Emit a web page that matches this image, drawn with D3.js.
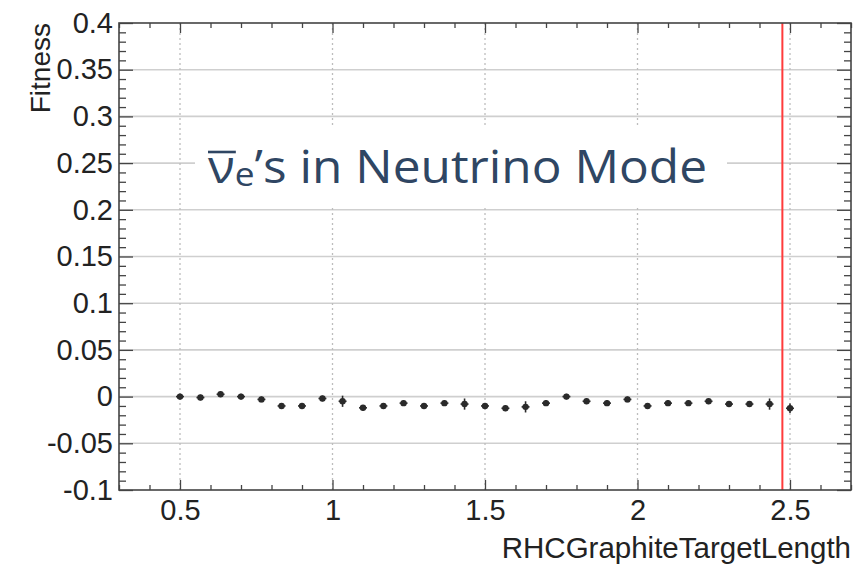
<!DOCTYPE html>
<html>
<head>
<meta charset="utf-8">
<script src="https://cdn.jsdelivr.net/npm/d3@7"></script>
<style>
  html, body { margin: 0; padding: 0; background: #fff; }
  svg { display: block; }
  .tick text { font-family: "Liberation Sans", Arial, Helvetica, sans-serif; }
</style>
</head>
<body>
<svg id="chart" width="865" height="566"></svg>
<script>
// Scan values: fitness versus graphite target length
const targetLength = [0.5, 0.567, 0.633, 0.7, 0.767, 0.833, 0.9, 0.967, 1.033, 1.1,
  1.167, 1.233, 1.3, 1.367, 1.433, 1.5, 1.567, 1.633, 1.7, 1.767,
  1.833, 1.9, 1.967, 2.033, 2.1, 2.167, 2.233, 2.3, 2.367, 2.433, 2.5];
const fitness = [0.000, -0.001, 0.0025, 0.000, -0.003, -0.010, -0.010, -0.002, -0.005, -0.012,
  -0.010, -0.007, -0.010, -0.007, -0.008, -0.010, -0.0125, -0.011, -0.007, 0.000,
  -0.005, -0.007, -0.003, -0.010, -0.007, -0.007, -0.005, -0.008, -0.008, -0.008, -0.0125];
const fitnessErr = [0.003, 0.003, 0.003, 0.003, 0.003, 0.003, 0.003, 0.003, 0.006, 0.003,
  0.003, 0.003, 0.003, 0.003, 0.006, 0.003, 0.003, 0.006, 0.003, 0.003,
  0.003, 0.003, 0.003, 0.003, 0.003, 0.003, 0.003, 0.003, 0.003, 0.006, 0.005];
const lengthErr = 0.013;
const nominalLength = 2.475;

const xTickValues = [0.5, 1, 1.5, 2, 2.5];
const xTickLabels = ["0.5", "1", "1.5", "2", "2.5"];
const yTickValues = [-0.1, -0.05, 0, 0.05, 0.1, 0.15, 0.2, 0.25, 0.3, 0.35, 0.4];
const yTickLabels = ["-0.1", "-0.05", "0", "0.05", "0.1", "0.15", "0.2", "0.25", "0.3", "0.35", "0.4"];
const xDomain = [0.3, 2.7];
const yDomain = [-0.1, 0.4];

const xTitle = "RHCGraphiteTargetLength";
const yTitle = "Fitness";

const svg = d3.select("#chart");
const frame = { left: 119, right: 851, top: 23, bottom: 490 };

const x = d3.scaleLinear().domain(xDomain).range([frame.left, frame.right]);
const y = d3.scaleLinear().domain(yDomain).range([frame.bottom, frame.top]);

const fontFam = '"Liberation Sans", Arial, Helvetica, sans-serif';
const ink = "#222";

// Horizontal grid (solid) and vertical grid (dotted)
svg.append("g").selectAll("line")
  .data(yTickValues.filter(v => v > yDomain[0] && v < yDomain[1]))
  .join("line")
  .attr("x1", frame.left).attr("x2", frame.right)
  .attr("y1", d => y(d)).attr("y2", d => y(d))
  .attr("stroke", "#cfcfcf").attr("stroke-width", 1.6);

svg.append("g").selectAll("line")
  .data(xTickValues)
  .join("line")
  .attr("x1", d => x(d)).attr("x2", d => x(d))
  .attr("y1", frame.top).attr("y2", frame.bottom)
  .attr("stroke", "#bdbdbd").attr("stroke-width", 1.3)
  .attr("stroke-dasharray", "2,3");

// Title panel
svg.append("rect")
  .attr("x", 195).attr("y", 127).attr("width", 532).attr("height", 79)
  .attr("fill", "#fff");

const title = svg.append("text")
  .attr("x", 208).attr("y", 183)
  .attr("font-family", '"Open Sans", "Noto Sans", sans-serif')
  .attr("font-size", 45)
  .attr("fill", "#2f4663")
  .attr("textLength", 499)
  .attr("lengthAdjust", "spacingAndGlyphs");
title.append("tspan").text("ν");
title.append("tspan").attr("font-size", 32).attr("dy", 3).text("e");
title.append("tspan").attr("dy", -3).text("’s in Neutrino Mode");

// Overbar on the antineutrino symbol
const nuStart = title.node().getStartPositionOfChar(0);
const nuEnd = title.node().getEndPositionOfChar(0);
svg.append("line")
  .attr("x1", nuStart.x).attr("x2", nuEnd.x + 1)
  .attr("y1", 152).attr("y2", 152)
  .attr("stroke", "#2f4663").attr("stroke-width", 2.6);

// Nominal value marker
svg.append("line")
  .attr("x1", x(nominalLength)).attr("x2", x(nominalLength))
  .attr("y1", frame.top).attr("y2", frame.bottom)
  .attr("stroke", "#ff3b3b").attr("stroke-width", 2);

// Points with error bars
const pts = targetLength.map((v, i) => ({ x: v, y: fitness[i], e: fitnessErr[i] }));
const gp = svg.append("g").attr("fill", "#2a2a2a").attr("stroke", "#2a2a2a");
gp.selectAll(".ey").data(pts).join("line")
  .attr("x1", d => x(d.x)).attr("x2", d => x(d.x))
  .attr("y1", d => y(d.y - d.e)).attr("y2", d => y(d.y + d.e))
  .attr("stroke-width", 1.6);
gp.selectAll(".ex").data(pts).join("line")
  .attr("x1", d => x(d.x - lengthErr)).attr("x2", d => x(d.x + lengthErr))
  .attr("y1", d => y(d.y)).attr("y2", d => y(d.y))
  .attr("stroke-width", 1.6);
gp.selectAll("circle").data(pts).join("circle")
  .attr("cx", d => x(d.x)).attr("cy", d => y(d.y)).attr("r", 3.2)
  .attr("stroke", "none");

// Axes: ticks drawn inside the frame on all four sides
const xMinor = d3.range(3, 28).map(v => v / 10).filter(v => !xTickValues.some(t => Math.abs(t - v) < 1e-6));
const yMinor = d3.range(-10, 41).map(v => v / 100).filter(v => !yTickValues.some(t => Math.abs(t - v) < 1e-6));

function styleAxis(g) {
  g.select(".domain").remove();
  g.selectAll(".tick line").attr("stroke", "#444").attr("stroke-width", 1.3);
  g.selectAll(".tick text").attr("fill", ink).attr("font-size", 29).attr("font-family", fontFam);
}

svg.append("g").attr("transform", `translate(0,${frame.bottom})`)
  .call(d3.axisBottom(x).tickValues(xTickValues).tickSizeInner(-10).tickSizeOuter(0).tickPadding(9)
    .tickFormat((d, i) => xTickLabels[i]))
  .call(styleAxis);
svg.append("g").attr("transform", `translate(0,${frame.bottom})`)
  .call(d3.axisBottom(x).tickValues(xMinor).tickSizeInner(-5).tickSizeOuter(0).tickFormat(""))
  .call(styleAxis);
svg.append("g").attr("transform", `translate(0,${frame.top})`)
  .call(d3.axisTop(x).tickValues(xTickValues).tickSizeInner(-10).tickSizeOuter(0).tickFormat(""))
  .call(styleAxis);
svg.append("g").attr("transform", `translate(0,${frame.top})`)
  .call(d3.axisTop(x).tickValues(xMinor).tickSizeInner(-5).tickSizeOuter(0).tickFormat(""))
  .call(styleAxis);

svg.append("g").attr("transform", `translate(${frame.left},0)`)
  .call(d3.axisLeft(y).tickValues(yTickValues).tickSizeInner(-14).tickSizeOuter(0).tickPadding(6)
    .tickFormat((d, i) => yTickLabels[i]))
  .call(styleAxis);
svg.append("g").attr("transform", `translate(${frame.left},0)`)
  .call(d3.axisLeft(y).tickValues(yMinor).tickSizeInner(-7).tickSizeOuter(0).tickFormat(""))
  .call(styleAxis);
svg.append("g").attr("transform", `translate(${frame.right},0)`)
  .call(d3.axisRight(y).tickValues(yTickValues).tickSizeInner(-14).tickSizeOuter(0).tickFormat(""))
  .call(styleAxis);
svg.append("g").attr("transform", `translate(${frame.right},0)`)
  .call(d3.axisRight(y).tickValues(yMinor).tickSizeInner(-7).tickSizeOuter(0).tickFormat(""))
  .call(styleAxis);

// Frame
svg.append("rect")
  .attr("x", frame.left).attr("y", frame.top)
  .attr("width", frame.right - frame.left).attr("height", frame.bottom - frame.top)
  .attr("fill", "none").attr("stroke", "#444").attr("stroke-width", 1.6);

// Axis titles
svg.append("text")
  .attr("x", frame.right).attr("y", 558)
  .attr("text-anchor", "end")
  .attr("font-family", fontFam).attr("font-size", 29.5).attr("fill", ink)
  .text(xTitle);

svg.append("text")
  .attr("transform", `translate(50,${frame.top}) rotate(-90)`)
  .attr("text-anchor", "end")
  .attr("font-family", fontFam).attr("font-size", 28).attr("fill", ink)
  .text(yTitle);
</script>
</body>
</html>
